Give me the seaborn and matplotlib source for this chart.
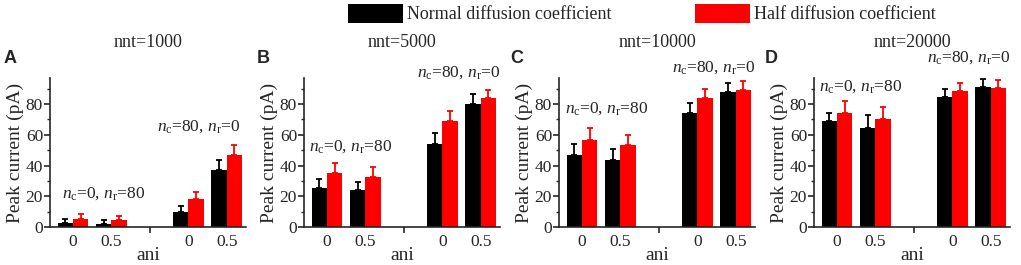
import matplotlib
matplotlib.use("Agg")
import matplotlib.pyplot as plt
import seaborn as sns
import pandas as pd
from matplotlib.patches import Patch
from matplotlib.container import BarContainer
from matplotlib.ticker import MultipleLocator, FixedLocator

# data
positions = [1, 2, 4, 5]
ani_labels = ["0", "0.5", "0", "0.5"]
panels = ["A", "B", "C", "D"]
titles = ["nnt=1000", "nnt=5000", "nnt=10000", "nnt=20000"]
series = ["Normal diffusion coefficient", "Half diffusion coefficient"]

normal_mean = [[2.8, 2.2, 9.6, 37.2], [25.3, 24.0, 53.8, 80.0],
               [46.8, 43.6, 74.3, 87.6], [69.0, 64.7, 84.6, 91.3]]
normal_err = [[2.6, 2.1, 4.1, 6.3], [6.1, 5.6, 7.4, 6.5],
              [7.0, 7.2, 6.4, 6.3], [5.5, 7.9, 5.4, 5.0]]
half_mean = [[5.0, 4.3, 18.0, 46.7], [35.3, 32.7, 69.0, 83.9],
             [56.9, 53.4, 83.7, 88.9], [74.3, 70.2, 88.3, 90.2]]
half_err = [[3.3, 2.9, 4.8, 6.6], [6.3, 6.3, 6.4, 5.1],
            [7.6, 6.7, 6.1, 6.1], [7.6, 7.6, 5.4, 5.3]]

label_left = r"$n_\mathrm{c}$=0, $n_\mathrm{r}$=80"
label_right = r"$n_\mathrm{c}$=80, $n_\mathrm{r}$=0"
# (x, y) of the two annotations in each panel
annot_pos = [((0.72, 19), (3.18, 63)), ((0.53, 50), (3.33, 98)),
             ((0.55, 74.5), (3.33, 101)), ((0.53, 89), (3.35, 108))]

colors = ["#000000", "#ff0000"]

sns.set_style("ticks")
plt.rcParams["font.family"] = ["Liberation Serif", "DejaVu Serif"]
plt.rcParams["mathtext.fontset"] = "custom"
plt.rcParams["mathtext.rm"] = "Liberation Serif"
plt.rcParams["mathtext.it"] = "Liberation Serif:italic"

W, H = 1021, 265
fig = plt.figure(figsize=(W / 100, H / 100), dpi=100)
lefts = [50, 304, 559, 814]
letter_x = [4, 257, 510, 765]

for k in range(4):
    ax = fig.add_axes([lefts[k] / W, 38 / H, 196 / W, 149 / H])
    df = pd.DataFrame({
        "pos": positions * 2,
        "value": normal_mean[k] + half_mean[k],
        "series": [series[0]] * 4 + [series[1]] * 4,
    })
    sns.barplot(data=df, x="pos", y="value", hue="series", native_scale=True,
                palette=colors, width=0.8, errorbar=None, saturation=1,
                legend=False, ax=ax, edgecolor="none")
    errs = [normal_err[k], half_err[k]]
    means = [normal_mean[k], half_mean[k]]
    bar_conts = [c for c in ax.containers if isinstance(c, BarContainer)]
    for i, cont in enumerate(bar_conts):
        bars = sorted(cont.patches, key=lambda b: b.get_x())
        xs = [b.get_x() + b.get_width() / 2 for b in bars]
        ax.errorbar(xs, means[i], yerr=[[0] * 4, errs[i]], fmt="none",
                    ecolor=colors[i], elinewidth=1.3, capsize=2.5, capthick=1.3)

    ax.set_xlim(0.4, 5.5)
    ax.set_ylim(0, 97)
    ax.set_xticks(positions)
    ax.set_xticklabels(ani_labels)
    ax.xaxis.set_minor_locator(FixedLocator([3]))
    ax.tick_params(axis="x", which="major", length=0, labelsize=12.5, pad=5)
    ax.tick_params(axis="x", which="minor", length=4, width=1.2)
    ax.set_yticks([0, 20, 40, 60, 80])
    ax.yaxis.set_minor_locator(MultipleLocator(10))
    ax.tick_params(axis="y", which="major", length=4, width=1.2, labelsize=12.5, pad=1)
    ax.tick_params(axis="y", which="minor", length=2, width=1)
    for s in ["top", "right"]:
        ax.spines[s].set_visible(False)
    for s in ["left", "bottom"]:
        ax.spines[s].set_linewidth(1.2)
    ax.set_xlabel("ani", fontsize=14, labelpad=-2)
    ax.set_ylabel("Peak current (pA)", fontsize=14, labelpad=1)
    ax.text(0.5, 1.21, titles[k], transform=ax.transAxes, ha="center",
            va="baseline", fontsize=13)
    (x1, y1), (x2, y2) = annot_pos[k]
    ax.text(x1, y1, label_left, fontsize=12.5, va="baseline", ha="left", clip_on=False)
    ax.text(x2, y2, label_right, fontsize=12.5, va="baseline", ha="left", clip_on=False)
    fig.text(letter_x[k] / W, 1 - 63 / H, panels[k], fontsize=13, weight="bold",
             family="Liberation Sans", va="baseline", ha="left")

handles = [Patch(facecolor=c, edgecolor="none") for c in colors]
fig.legend(handles, series, loc="upper left", bbox_to_anchor=(348 / W, 1 - 4 / H),
           ncol=2, frameon=False, fontsize=13, handlelength=3.05, handleheight=1.2,
           handletextpad=0.22, columnspacing=4.6, borderpad=0, borderaxespad=0)

fig.savefig("out.png", dpi=100)
